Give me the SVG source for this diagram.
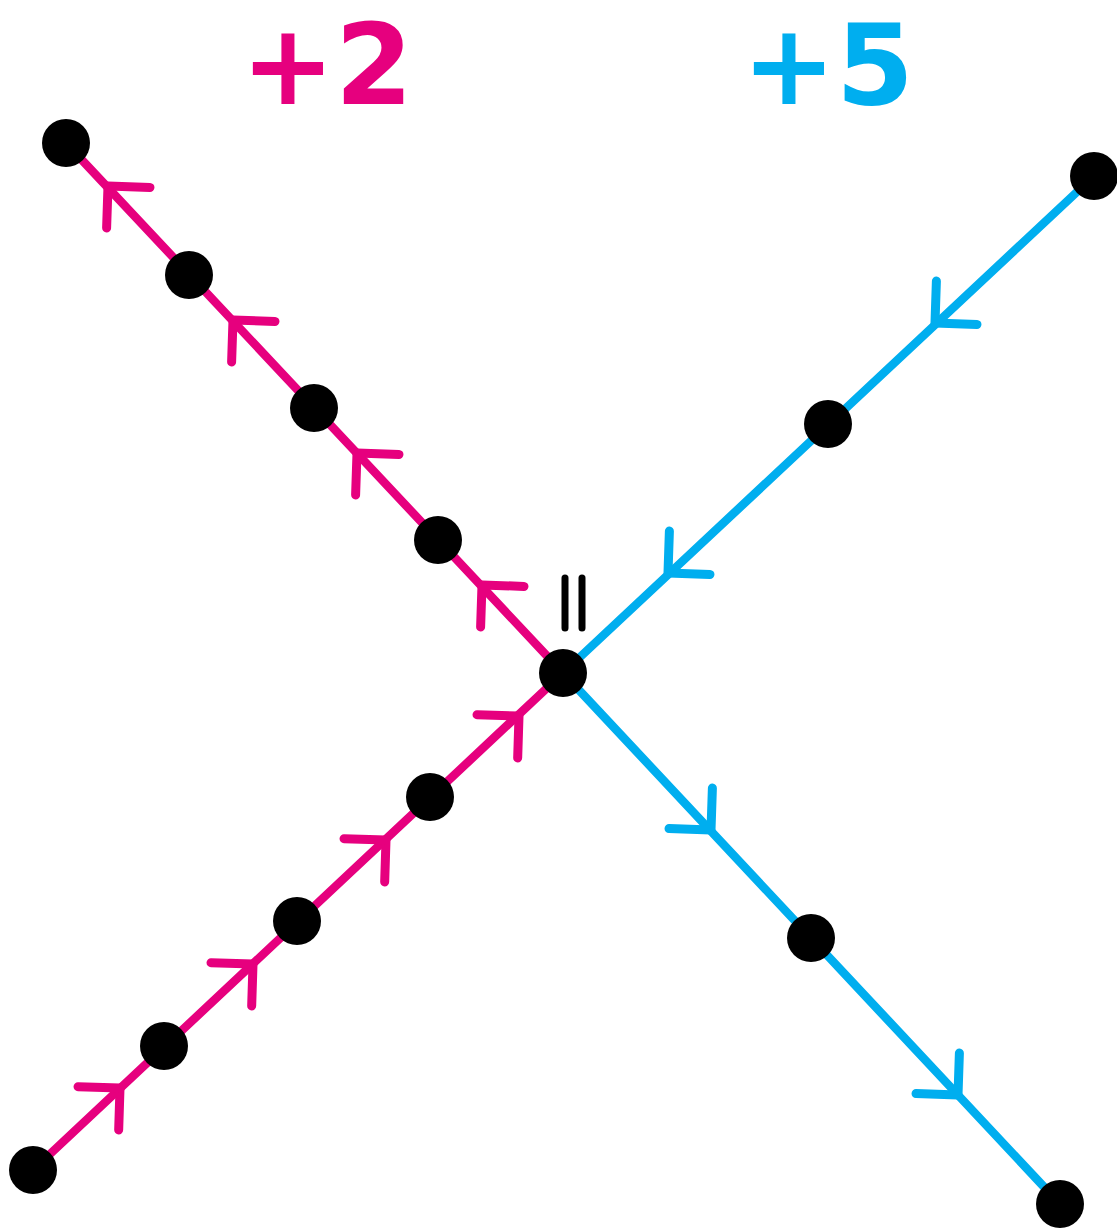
<svg xmlns="http://www.w3.org/2000/svg" xmlns:xlink="http://www.w3.org/1999/xlink" width="1117" height="1231" viewBox="0 0 1117 1231">
<style>
.pk{stroke:#E6007E}
.bl{stroke:#00AEEF}
.ln{stroke-width:8.5;fill:none;stroke-linecap:round}
.ch{stroke-width:9;fill:none;stroke-linecap:round;stroke-linejoin:round}
.nd{fill:#000}
.lbl{font-family:"DejaVu Sans",sans-serif;font-weight:bold;font-size:112px;text-anchor:middle}
</style>
<defs>
<path id="chev" d="M-29.7,-29.7 L0,0 L-29.7,29.7"/>
</defs>
<rect width="1117" height="1231" fill="#fff"/>
<g id="connectors">
<line class="ln pk" x1="66" y1="143" x2="563" y2="673"/>
<line class="ln pk" x1="33" y1="1170" x2="563" y2="673"/>
<line class="ln bl" x1="1094" y1="176" x2="563" y2="673"/>
<line class="ln bl" x1="563" y1="673" x2="1060" y2="1204"/>
<g class="ch pk">
<use xlink:href="#chev" transform="translate(108,186) rotate(-133.1)"/>
<use xlink:href="#chev" transform="translate(233,320) rotate(-133.1)"/>
<use xlink:href="#chev" transform="translate(357,453) rotate(-133.1)"/>
<use xlink:href="#chev" transform="translate(482,585) rotate(-133.1)"/>
<use xlink:href="#chev" transform="translate(519,716) rotate(-43.2)"/>
<use xlink:href="#chev" transform="translate(386,840) rotate(-43.2)"/>
<use xlink:href="#chev" transform="translate(253,964) rotate(-43.2)"/>
<use xlink:href="#chev" transform="translate(120,1088) rotate(-43.2)"/>
</g>
<g class="ch bl">
<use xlink:href="#chev" transform="translate(935,323) rotate(136.9)"/>
<use xlink:href="#chev" transform="translate(668,573) rotate(136.9)"/>
<use xlink:href="#chev" transform="translate(711,830) rotate(46.9)"/>
<use xlink:href="#chev" transform="translate(958,1095) rotate(46.9)"/>
</g>
</g>
<g id="n-center"><circle class="nd" cx="563" cy="673" r="24"/></g>
<g id="n-ul1"><circle class="nd" cx="438" cy="540" r="24"/></g>
<g id="n-ul2"><circle class="nd" cx="314" cy="408" r="24"/></g>
<g id="n-ul3"><circle class="nd" cx="189" cy="275" r="24"/></g>
<g id="n-ul4"><circle class="nd" cx="66" cy="143" r="24"/></g>
<g id="n-ll1"><circle class="nd" cx="430" cy="797" r="24"/></g>
<g id="n-ll2"><circle class="nd" cx="297" cy="921" r="24"/></g>
<g id="n-ll3"><circle class="nd" cx="164" cy="1046" r="24"/></g>
<g id="n-ll4"><circle class="nd" cx="33" cy="1170" r="24"/></g>
<g id="n-ur1"><circle class="nd" cx="828" cy="424" r="24"/></g>
<g id="n-ur2"><circle class="nd" cx="1094" cy="176" r="24"/></g>
<g id="n-lr1"><circle class="nd" cx="811" cy="938" r="24"/></g>
<g id="n-lr2"><circle class="nd" cx="1060" cy="1204" r="24"/></g>
<g id="parallel-mark" stroke="#000" stroke-width="7" stroke-linecap="round">
<line x1="565" y1="578" x2="565" y2="628"/>
<line x1="582" y1="578" x2="582" y2="628"/>
</g>
<text class="lbl" x="327" y="104" fill="#E6007E">+2</text>
<text class="lbl" x="828" y="104" fill="#00AEEF">+5</text>
</svg>
